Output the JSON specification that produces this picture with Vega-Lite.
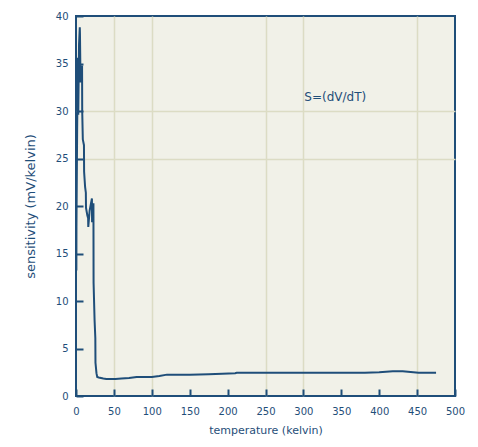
{
  "$schema": "https://vega.github.io/schema/vega-lite/v6.json",
  "autosize": "none",
  "width": 379,
  "height": 380,
  "padding": {"left": 76, "top": 16, "right": 23, "bottom": 51},
  "background": "white",
  "config": {
    "view": {"stroke": "#1f4e79", "strokeWidth": 2, "fill": "#f1f1e8"},
    "font": "DejaVu Sans",
    "axis": {
      "domain": false,
      "labelColor": "#1f4e79",
      "titleColor": "#1f4e79",
      "labelFontSize": 10,
      "titleFontSize": 11,
      "titleFontWeight": "normal",
      "gridColor": "#dcdcc4",
      "gridWidth": 1.5
    }
  },
  "datasets": {
    "curve": [
      {"T": 0.5, "S": 13.2}, {"T": 0.6, "S": 17.8}, {"T": 1.5, "S": 28}, {"T": 2.5, "S": 35.6},
      {"T": 3, "S": 29.6}, {"T": 4, "S": 37}, {"T": 5, "S": 38.8}, {"T": 5.2, "S": 38.2},
      {"T": 6, "S": 33}, {"T": 8, "S": 34.8}, {"T": 8.2, "S": 30}, {"T": 9, "S": 27},
      {"T": 10.5, "S": 26.4}, {"T": 10.7, "S": 23.6}, {"T": 12, "S": 22}, {"T": 13, "S": 21.4},
      {"T": 13.2, "S": 19.8}, {"T": 15, "S": 19}, {"T": 16, "S": 18.7}, {"T": 16.2, "S": 17.8},
      {"T": 18, "S": 19.5}, {"T": 21, "S": 20.8}, {"T": 21.2, "S": 18.3}, {"T": 22, "S": 19},
      {"T": 23, "S": 20.3}, {"T": 23.2, "S": 11.9}, {"T": 24.5, "S": 8}, {"T": 25.5, "S": 6.1},
      {"T": 25.7, "S": 3.5}, {"T": 27, "S": 2.4}, {"T": 28, "S": 2.0}, {"T": 30, "S": 1.95},
      {"T": 33, "S": 1.9}, {"T": 36, "S": 1.85}, {"T": 40, "S": 1.8}, {"T": 52, "S": 1.8},
      {"T": 60, "S": 1.85}, {"T": 70, "S": 1.9}, {"T": 80, "S": 2.0}, {"T": 100, "S": 2.0},
      {"T": 110, "S": 2.1}, {"T": 120, "S": 2.25}, {"T": 150, "S": 2.25}, {"T": 175, "S": 2.3},
      {"T": 193, "S": 2.35}, {"T": 210, "S": 2.4}, {"T": 212, "S": 2.45}, {"T": 339, "S": 2.45},
      {"T": 360, "S": 2.45}, {"T": 381, "S": 2.45}, {"T": 400, "S": 2.5}, {"T": 418, "S": 2.6},
      {"T": 431, "S": 2.6}, {"T": 445, "S": 2.5}, {"T": 452, "S": 2.45}, {"T": 468, "S": 2.45},
      {"T": 475, "S": 2.45}
    ],
    "note": [{"T": 342, "S": 31.5, "label": "S=(dV/dT)"}]
  },
  "encoding": {
    "x": {
      "field": "T", "type": "quantitative",
      "scale": {"domain": [0, 500], "nice": false, "zero": false},
      "axis": {
        "orient": "bottom",
        "title": "temperature (kelvin)",
        "titlePadding": 8,
        "values": [0,50,100,150,200,250,300,350,400,450,500],
        "ticks": true,
        "tickSize": -7,
        "tickWidth": 2,
        "tickColor": "#1f4e79",
        "labelPadding": 17,
        "labelFlush": false,
        "grid": true,
        "gridOpacity": {"condition": {"test": "indexof([50,100,250,300,450], datum.value) >= 0", "value": 1}, "value": 0}
      }
    },
    "y": {
      "field": "S", "type": "quantitative",
      "scale": {"domain": [0, 40], "nice": false},
      "axis": {
        "orient": "left",
        "title": "sensitivity (mV/kelvin)",
        "titleFontSize": 13,
        "titlePadding": 18,
        "values": [0,5,10,15,20,25,30,35,40],
        "ticks": true,
        "tickSize": -7,
        "tickWidth": 2,
        "tickColor": "#1f4e79",
        "labelPadding": 15,
        "labelFlush": false,
        "grid": true,
        "gridOpacity": {"condition": {"test": "indexof([25,30], datum.value) >= 0", "value": 1}, "value": 0}
      }
    }
  },
  "layer": [
    {
      "data": {"name": "curve"},
      "mark": {"type": "line", "color": "#1f4e79", "strokeWidth": 2, "clip": true}
    },
    {
      "data": {"name": "note"},
      "mark": {"type": "text", "color": "#1f4e79", "fontSize": 12, "align": "center", "baseline": "middle"},
      "encoding": {
        "text": {"field": "label"}
      }
    }
  ]
}
